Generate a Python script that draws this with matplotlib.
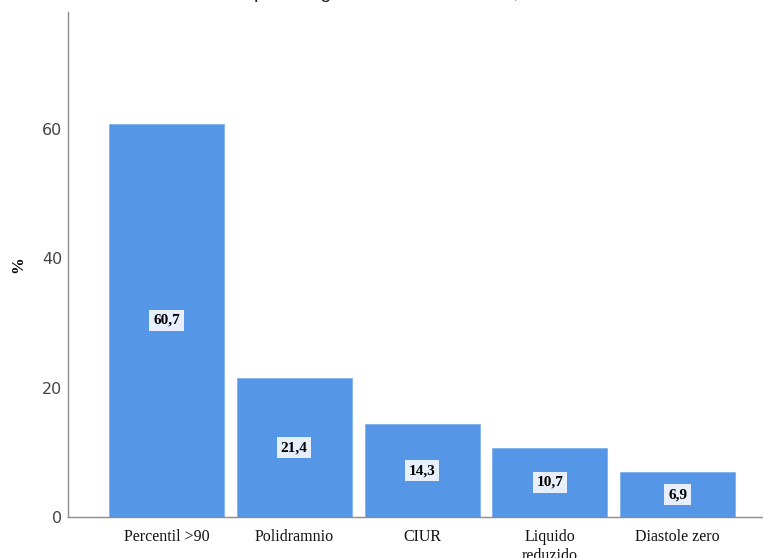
import matplotlib
matplotlib.use("Agg")
import matplotlib.pyplot as plt
from matplotlib import font_manager

categories = ["Percentil >90", "Polidramnio", "CIUR", "Liquido\nreduzido", "Diastole zero"]
values = [60.7, 21.4, 14.3, 10.7, 6.9]
value_labels = ["60,7", "21,4", "14,3", "10,7", "6,9"]
y_ticks = [0, 20, 40, 60]

bar_color = "#5596e6"

names = {f.name for f in font_manager.fontManager.ttflist}
narrow = "Liberation Sans Narrow" if "Liberation Sans Narrow" in names else "DejaVu Sans"

fig = plt.figure(figsize=(7.63, 5.58), dpi=100)
ax = fig.add_axes([0.0891, 0.0735, 0.928, 0.905])

x = list(range(len(categories)))
ax.bar(x, values, width=0.9, color=bar_color, edgecolor="#7fb0ee", linewidth=0.6)

# value labels sit halfway up each bar
for xi, v, lab in zip(x, values, value_labels):
    ax.text(xi, v / 2, lab, ha="center", va="center", fontsize=11,
            fontweight="bold", family="Liberation Serif",
            bbox=dict(boxstyle="square,pad=0.25", facecolor="#e6effb", edgecolor="none"))

ax.set_xlim(-0.77, 4.77)
ax.set_ylim(0, 78)
ax.set_xticks(x)
ax.set_xticklabels(categories, family="Liberation Serif", fontsize=11.5, linespacing=1.25)
ax.set_yticks(y_ticks)
ax.set_yticklabels([str(t) for t in y_ticks], family=narrow, fontsize=11.5)
ax.tick_params(axis="y", length=0, pad=4, colors="#444444")
ax.tick_params(axis="x", length=0, pad=9, colors="#111111")

for side in ["top", "right"]:
    ax.spines[side].set_visible(False)
for side in ["left", "bottom"]:
    ax.spines[side].set_color("#8c8c8c")
    ax.spines[side].set_linewidth(1)

fig.text(18 / 763, 1 - 265 / 558, "%", rotation=90, ha="center", va="center",
         fontsize=12, fontweight="bold", family="Liberation Serif")

# title line, mostly cropped off the top of the image
fig.text(50 / 763, 1 + 2.5 / 558, "na maternidade do Hospital Regional de Juiz de Fora, entre 2014 e 2016",
         ha="left", va="baseline", fontsize=14, color="#222222", family="Liberation Sans")

fig.savefig("out.png", dpi=100)
